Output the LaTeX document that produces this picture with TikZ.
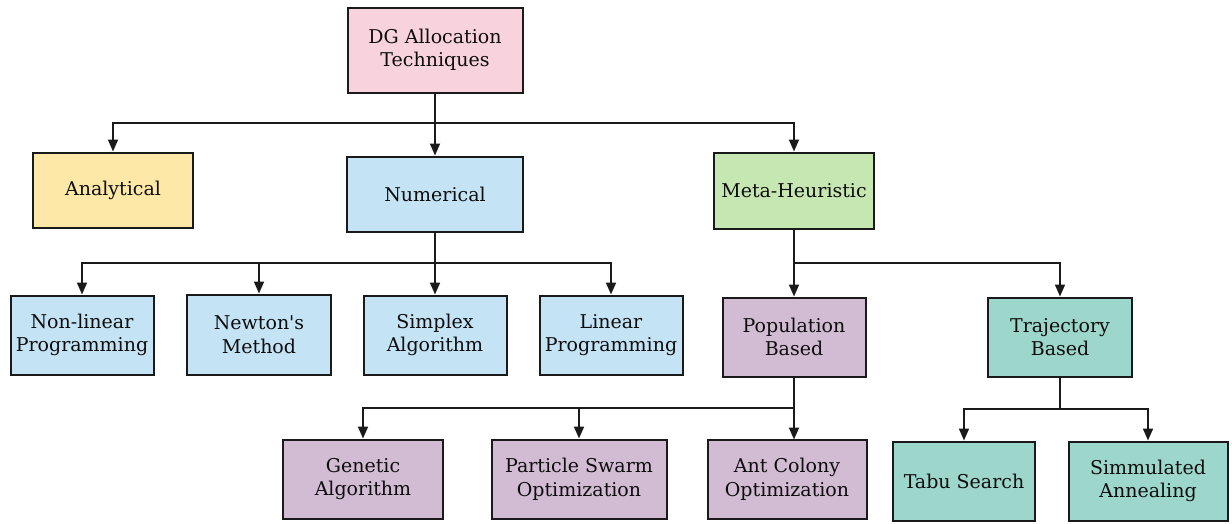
\documentclass[tikz,border=0pt]{standalone}
\usepackage{fontspec}
\setmainfont{DejaVu Serif}[Ligatures=TeXOff]
\usetikzlibrary{arrows.meta}

\definecolor{cpink}{HTML}{F8D3DE}
\definecolor{cyellow}{HTML}{FDE8A8}
\definecolor{cblue}{HTML}{C4E3F5}
\definecolor{cgreen}{HTML}{C7E7B2}
\definecolor{cpurple}{HTML}{D2BCD4}
\definecolor{cteal}{HTML}{9DD6CA}
\definecolor{cline}{HTML}{1A1A1A}

\begin{document}
\begin{tikzpicture}[x=1pt,y=-1pt,
  box/.style={draw=cline, line width=2pt, rectangle, align=center,
    inner sep=0pt, font=\fontsize{19}{23.5}\selectfont, text=black!95},
  sz/.style 2 args={minimum width=#1pt, minimum height=#2pt},
  arr/.style={draw=cline, line width=1.8pt,
    -{Triangle[length=12pt,width=10pt]}},
  link/.style={draw=cline, line width=1.8pt}]

\useasboundingbox (0,0) rectangle (1232,523);
\fill[white] (0,0) rectangle (1232,523);

% root
\node[box, fill=cpink, sz={175}{85}] (dg) at (435,50) {DG Allocation\\Techniques};

% first level
\node[box, fill=cyellow, sz={160}{75}] (an) at (113,190) {Analytical};
\node[box, fill=cblue, sz={176}{75}] (nu) at (435,194) {Numerical};
\node[box, fill=cgreen, sz={160}{76}] (mh) at (794,190.5) {Meta-Heuristic};

% numerical methods
\node[box, fill=cblue, sz={143}{79}] (nlp) at (82,335) {Non-linear\\Programming};
\node[box, fill=cblue, sz={144}{80}] (nm) at (259,334.5) {Newton's\\Method};
\node[box, fill=cblue, sz={143}{79}] (sa) at (435,335) {Simplex\\Algorithm};
\node[box, fill=cblue, sz={143}{79}] (lp) at (611,335) {Linear\\Programming};

% meta-heuristic families
\node[box, fill=cpurple, sz={143}{79}] (pb) at (794,337) {Population\\Based};
\node[box, fill=cteal, sz={144}{79}] (tb) at (1060,337) {Trajectory\\Based};

% population based methods
\node[box, fill=cpurple, sz={160}{79}] (ga) at (363,479) {Genetic\\Algorithm};
\node[box, fill=cpurple, sz={175}{79}] (pso) at (579,479) {Particle Swarm\\Optimization};
\node[box, fill=cpurple, sz={159}{79}] (aco) at (787,479) {Ant Colony\\Optimization};

% trajectory based methods
\node[box, fill=cteal, sz={142}{79}] (ts) at (964,481) {Tabu Search};
\node[box, fill=cteal, sz={159}{79}] (sim) at (1148,481) {Simmulated\\Annealing};

% bus levels
\coordinate (b1) at (0,123);
\coordinate (b2) at (0,263);
\coordinate (b3) at (0,263);
\coordinate (b4) at (0,408);
\coordinate (b5) at (0,409);

% root to first level
\draw[link] (dg.south) -- (dg.south |- b1);
\draw[arr] (dg.south |- b1) -| (an.north);
\draw[arr] (dg.south |- b1) -- (nu.north);
\draw[arr] (dg.south |- b1) -| (mh.north);

% numerical to its methods
\draw[link] (nu.south) -- (nu.south |- b2);
\draw[arr] (nu.south |- b2) -| (nlp.north);
\draw[arr] (nu.south |- b2) -| (nm.north);
\draw[arr] (nu.south |- b2) -- (sa.north);
\draw[arr] (nu.south |- b2) -| (lp.north);

% meta-heuristic to families
\draw[link] (mh.south) -- (mh.south |- b3);
\draw[arr] (mh.south |- b3) -- (pb.north);
\draw[arr] (mh.south |- b3) -| (tb.north);

% population based to methods
\coordinate (acotop) at (794,439.5);
\draw[link] (pb.south) -- (pb.south |- b4);
\draw[arr] (pb.south |- b4) -| (ga.north);
\draw[arr] (pb.south |- b4) -| (pso.north);
\draw[arr] (pb.south |- b4) -- (acotop);

% trajectory based to methods
\draw[link] (tb.south) -- (tb.south |- b5);
\draw[arr] (tb.south |- b5) -| (ts.north);
\draw[arr] (tb.south |- b5) -| (sim.north);
\end{tikzpicture}
\end{document}
